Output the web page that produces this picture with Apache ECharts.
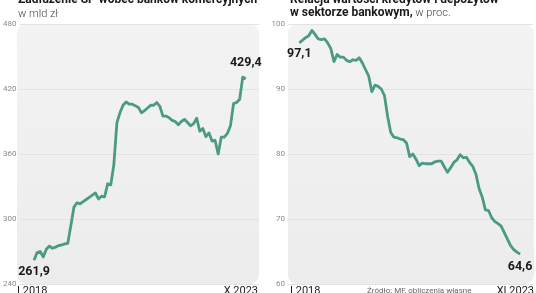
<!DOCTYPE html>
<html><head><meta charset="utf-8">
<script src="https://cdn.jsdelivr.net/npm/echarts@6/dist/echarts.min.js"></script>
<style>html,body{margin:0;padding:0;background:#fff}#c{width:536px;height:293px}</style>
</head><body><div id="c"></div>
<script>
// Zadłużenie SP wobec banków komercyjnych, mld zł, I 2018 – X 2023 (monthly)
const leftValues = [261.9,269,270,265,272,275,273,274,275.5,276,277,277.5,
  294,311,315,314,316,318,320,322,324,318.5,321,320.5,
  332.5,331.5,350,389,398,405,408,406,406,404.5,403,398,
  400,402.5,405,405,407.5,404,395,395,393.5,391,390,387,
  390,392,389,386,388,393,381,383.5,376,379.5,372,372.5,
  360,375.5,375.5,379,386,406.5,407.5,410.5,431,429.4];
// Relacja kredytów do depozytów, %, I 2018 – XI 2023 (monthly)
const rightValues = [97.1,97.5,97.9,98.2,99.0,98.4,97.7,97.6,97.7,97.1,96.2,94.2,
  95.3,94.9,94.9,94.4,94.2,94.5,94.4,94.8,94.0,93.0,92.0,89.6,
  90.6,90.4,90.0,89.0,85.8,83.3,82.6,82.5,82.3,82.2,81.7,79.6,
  80.0,79.2,78.2,78.6,78.5,78.5,78.5,78.8,78.9,78.9,78.0,77.2,
  77.9,78.7,79.1,79.9,79.4,79.5,78.7,78.1,76.9,74.7,73.4,71.4,
  71.3,70.2,69.6,69.3,68.9,67.9,66.9,65.9,65.3,64.9,64.6];
const leftYTicks = [240, 300, 360, 420, 480];
const rightYTicks = [60, 70, 80, 90, 100];
const leftXLabels = ['I 2018', 'X 2023'];
const rightXLabels = ['I 2018', 'XI 2023'];
const leftTitle = 'Zadłużenie SP wobec banków komercyjnych';
const leftUnit = 'w mld zł';
const rightTitle1 = 'Relacja wartości kredytów i depozytów';
const rightTitle2a = 'w sektorze bankowym,';
const rightTitle2b = ' w proc.';
const source = 'Źródło: MF, obliczenia własne';

const LINE = '#4b9a86';
const fmt = v => v.toFixed(1).replace('.', ',');

function buildData(arr, firstLbl, lastLbl) {
  return arr.map((v, i) => {
    const d = { value: [i, v] };
    if (i === 0) d.label = Object.assign({ show: true }, firstLbl);
    if (i === arr.length - 1) d.label = Object.assign({ show: true }, lastLbl);
    return d;
  });
}
const valLabel = { fontFamily: 'Roboto', fontWeight: 'bold', fontSize: 12.5, color: '#1a1a1a',
  formatter: p => fmt(p.value[1]) };

const chart = echarts.init(document.getElementById('c'), null, { renderer: 'canvas' });
const yLbl = { fontFamily: 'Roboto', fontSize: 8, color: '#8a8a8a', margin: 3 };
const split = { show: true, lineStyle: { color: '#e3e3e3', width: 1 } };
const bgFill = new echarts.graphic.LinearGradient(0, 0, 0, 1, [
  { offset: 0, color: '#f3f3f3' }, { offset: 1, color: '#ececec' }]);

const lineSeries = (idx, arr, l1, l2) => ({
  type: 'line', xAxisIndex: idx, yAxisIndex: idx, symbol: 'circle', symbolSize: 0, showSymbol: true,
  itemStyle: { color: LINE }, lineStyle: { color: LINE, width: 2.8, join: 'round' },
  label: { show: false }, labelLayout: { hideOverlap: false },
  data: buildData(arr, l1, l2)
});

chart.setOption({
  animation: false,
  grid: [
    { left: 17, width: 242, top: 24, height: 260 },
    { left: 288, width: 245, top: 24, height: 260 }
  ],
  xAxis: [
    { gridIndex: 0, type: 'value', min: -4.74, max: 73.3, show: false },
    { gridIndex: 1, type: 'value', min: -3.58, max: 74.1, show: false }
  ],
  yAxis: [
    { gridIndex: 0, type: 'value', min: leftYTicks[0], max: leftYTicks[leftYTicks.length - 1],
      interval: leftYTicks[1] - leftYTicks[0], axisLine: { show: false }, axisTick: { show: false },
      axisLabel: yLbl, splitLine: split },
    { gridIndex: 1, type: 'value', min: rightYTicks[0], max: rightYTicks[rightYTicks.length - 1],
      interval: rightYTicks[1] - rightYTicks[0], axisLine: { show: false }, axisTick: { show: false },
      axisLabel: yLbl, splitLine: split }
  ],
  series: [
    lineSeries(0, leftValues,
      Object.assign({}, valLabel, { position: 'bottom', distance: 5, offset: [1, 0] }),
      Object.assign({}, valLabel, { position: 'top', distance: 9, offset: [2, 0] })),
    lineSeries(1, rightValues,
      Object.assign({}, valLabel, { position: 'bottom', distance: 5, offset: [2, 0] }),
      Object.assign({}, valLabel, { position: 'bottom', distance: 6, offset: [1, 0] }))
  ],
  graphic: [
    { type: 'rect', z: -10, shape: { x: 17, y: 24, width: 242, height: 260, r: 9 }, style: { fill: bgFill } },
    { type: 'rect', z: -10, shape: { x: 288, y: 24, width: 246, height: 260, r: 9 }, style: { fill: bgFill } },
    { type: 'text', left: 18, top: -6, style: { text: leftTitle, font: 'bold 12px Roboto', fill: '#1a1a1a' } },
    { type: 'text', left: 18, top: 9, style: { text: leftUnit, font: '300 11px Roboto', fill: '#444' } },
    { type: 'text', left: 290, top: -6, style: { text: rightTitle1, font: 'bold 12px Roboto', fill: '#1a1a1a' } },
    { type: 'text', left: 290, top: 7, style: {
        text: '{b|' + rightTitle2a + '}{n|' + rightTitle2b + '}',
        rich: { b: { font: 'bold 12px Roboto', fill: '#1a1a1a', verticalAlign: 'bottom' },
                n: { font: '300 11px Roboto', fill: '#444', verticalAlign: 'bottom' } } } },
    { type: 'text', left: 17, top: 286, style: { text: leftXLabels[0], font: '11px Roboto', fill: '#222' } },
    { type: 'text', right: 278, top: 286, style: { text: leftXLabels[1], font: '11px Roboto', fill: '#222' } },
    { type: 'text', left: 290, top: 286, style: { text: rightXLabels[0], font: '11px Roboto', fill: '#222' } },
    { type: 'text', right: 2, top: 286, style: { text: rightXLabels[1], font: '11px Roboto', fill: '#222' } },
    { type: 'text', left: 367, top: 287, style: { text: source, font: '8px Roboto', fill: '#666' } }
  ]
});
</script></body></html>
